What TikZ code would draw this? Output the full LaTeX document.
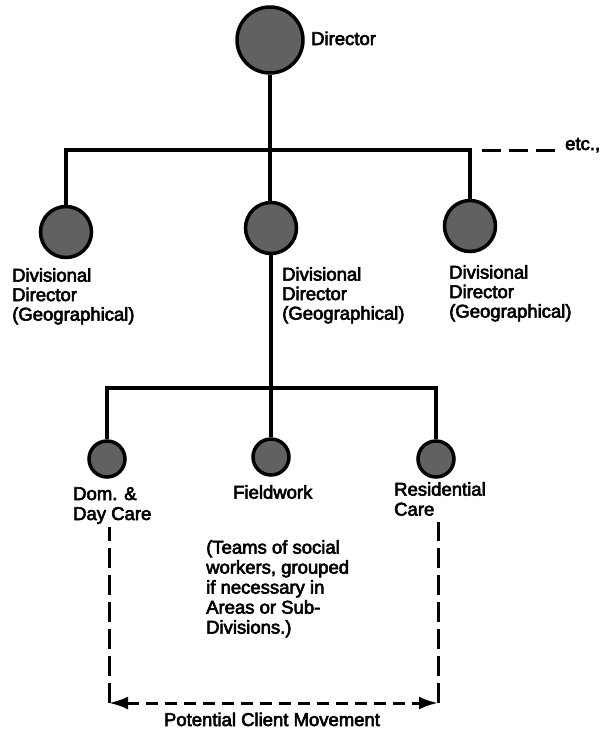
\documentclass[tikz,border=0pt]{standalone}
\usepackage{fontspec}
\setmainfont{Liberation Sans}[FakeBold=3.2]
\usetikzlibrary{arrows.meta}
\begin{document}
\begin{tikzpicture}[x=1pt,y=-1pt,
  post/.style={circle,draw=black,line width=3.5pt,fill=black!62,inner sep=0pt},
  conn/.style={line width=3.8pt,line join=miter},
  dashtop/.style={line width=3pt,dash pattern=on 19pt off 8pt},
  dashside/.style={line width=3pt,dash pattern=on 20pt off 7pt},
  dashbase/.style={line width=3pt,dash pattern=on 12pt off 7pt,
    {Latex[length=19pt,width=13pt]}-{Latex[length=19pt,width=13pt]}},
  lbl/.style={font=\fontsize{18.5}{19.5}\selectfont,align=left,inner sep=0pt,anchor=north west}]
\useasboundingbox (0,0) rectangle (602,729);

% director and the first level
\node[post,minimum size=66pt] (dir) at (270,40) {};
\node[lbl,anchor=base west] (dirlbl) at (311,45) {Director};

\node[post,minimum size=51pt] (dv1) at (66,232) {};
\node[post,minimum size=51pt] (dv2) at (271,228) {};
\node[post,minimum size=51pt] (dv3) at (470,226) {};
\coordinate (bar) at (270,150);

\draw[conn] (dir.south) -- (dir.south |- dv2.north);
\draw[conn] (dv1.north) |- (bar) -| (dv3.north);

\node[lbl,anchor=base west] (etc) at (565,150) {etc.,};
\coordinate (etcstart) at (482,150);
\draw[dashtop] (etcstart) -- ([xshift=-10pt]etcstart -| etc.west);

\node[lbl] (dv1lbl) at (12,268) {Divisional\\Director\\(Geographical)};
\node[lbl] (dv2lbl) at (282,267) {Divisional\\Director\\(Geographical)};
\node[lbl] (dv3lbl) at (449,265) {Divisional\\Director\\(Geographical)};

% second level
\node[post,minimum size=36pt] (s1) at (107,459) {};
\node[post,minimum size=36pt] (s2) at (271,457) {};
\node[post,minimum size=36pt] (s3) at (436,459) {};
\coordinate (bar2) at (271,388);

\draw[conn] (dv2.south) -- (s2.north);
\draw[conn] (s1.north) |- (bar2) -| (s3.north);

\node[lbl,font=\fontsize{18.5}{20}\selectfont] (s1lbl) at (73,487) {Dom. \&\\Day Care};
\node[lbl] (s2lbl) at (233,485) {Fieldwork};
\node[lbl,font=\fontsize{18.5}{20}\selectfont] (s3lbl) at (394,482) {Residential\\Care};

\node[lbl,font=\fontsize{18.5}{20}\selectfont] (teams) at (206,540)
  {(Teams of social\\workers, grouped\\if necessary in\\Areas or Sub-\\Divisions.)};

% client movement between the two services
\coordinate (lt) at (109,527);
\coordinate (lb) at (109,703);
\coordinate (rt) at (438,522);
\coordinate (rb) at (438,703);
\draw[dashside] (lb) -- (lt);
\draw[dashside] (rb) -- (rt);
\draw[dashbase] (lb) -- (rb);
\node[lbl,anchor=base] (move) at (272,726) {Potential Client Movement};
\end{tikzpicture}
\end{document}
